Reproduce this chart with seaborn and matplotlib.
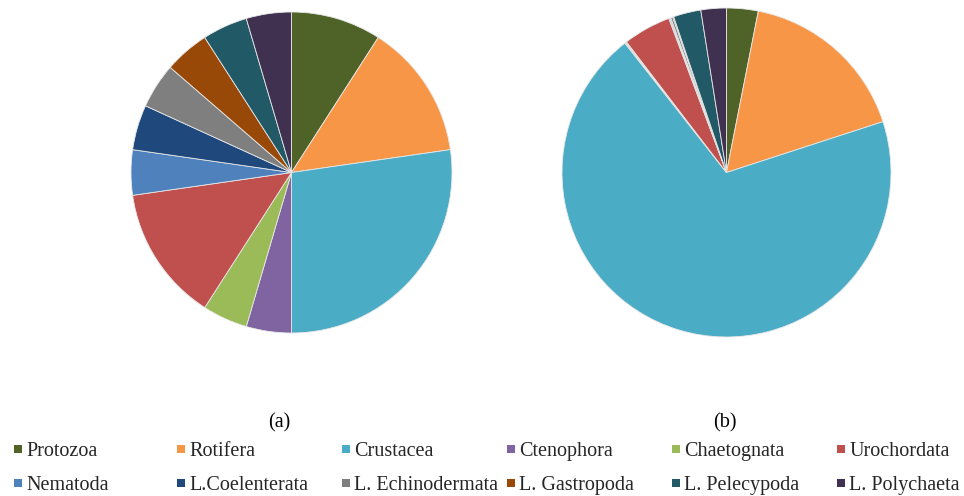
import matplotlib
matplotlib.use("Agg")
import matplotlib.pyplot as plt
from matplotlib.lines import Line2D
from matplotlib.font_manager import FontProperties
import seaborn as sns

# Plankton groups and their shares in the two samples
groups = ["Protozoa", "Rotifera", "Crustacea", "Ctenophora", "Chaetognata",
          "Urochordata", "Nematoda", "L.Coelenterata", "L. Echinodermata",
          "L. Gastropoda", "L. Pelecypoda", "L. Polychaeta"]
share_a = [2, 3, 6, 1, 1, 3, 1, 1, 1, 1, 1, 1]
share_b = [3.1, 16.9, 69.4, 0.1, 0.1, 4.7, 0.1, 0.1, 0.2, 0.1, 2.7, 2.5]
panel_labels = ["(a)", "(b)"]

group_colors = ["#4F6228", "#F79646", "#4BACC6", "#8064A2", "#9BBB59", "#C0504D",
                "#4F81BD", "#1F497D", "#7F7F7F", "#984807", "#215967", "#403151"]

sns.set_theme(style="white")
plt.rcParams["font.family"] = ["Liberation Serif", "DejaVu Serif"]
palette = sns.color_palette(group_colors)
serif = FontProperties(family="Liberation Serif", size=14.5)

W, H = 964, 496
fig = plt.figure(figsize=(W / 100, H / 100), dpi=100)


def pie_axes(cx, cy, r):
    return fig.add_axes([(cx - r) / W, (H - cy - r) / H, 2 * r / W, 2 * r / H])


axes = [pie_axes(291.5, 172.5, 160.5), pie_axes(726.5, 172.5, 164.5)]
for ax, vals, lab, lx in zip(axes, [share_a, share_b], panel_labels, [279, 725]):
    ax.pie(vals, colors=palette, startangle=90, counterclock=False,
           wedgeprops=dict(edgecolor="#e8e8e8", linewidth=0.6))
    ax.set_xlim(-1, 1)
    ax.set_ylim(-1, 1)
    ax.set_aspect("auto")
    ax.axis("off")
    fig.text(lx / W, 1 - 423 / H, lab, ha="center", va="center",
             fontproperties=serif, color="black")

# Legend: six columns, two rows
col_x = [14, 177, 342, 507, 672, 837]
for c in range(6):
    handles = []
    for idx in (c, c + 6):
        handles.append(Line2D([], [], linestyle="none", marker="s", markersize=5.5,
                              markerfacecolor=palette[idx], markeredgewidth=0,
                              label=groups[idx]))
    fig.legend(handles=handles, loc="upper left",
               bbox_to_anchor=(col_x[c] / W, 1 - 441.5 / H),
               frameon=False, prop=serif, handlelength=0.4,
               handletextpad=0.2, borderpad=0, borderaxespad=0,
               labelspacing=0.78)

fig.savefig("out.png", dpi=100, facecolor="white")
